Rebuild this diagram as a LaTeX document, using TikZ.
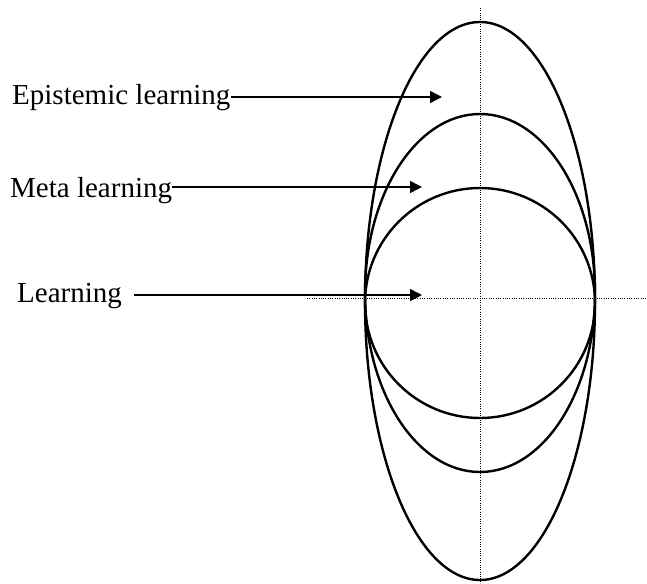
\documentclass[tikz,border=0pt]{standalone}
\usepackage{fontspec}
\setmainfont{Liberation Serif}
\usetikzlibrary{arrows.meta}
\tikzset{>={Triangle[length=12pt,width=12pt]},
 label/.style={inner sep=0pt,anchor=base west,font=\fontsize{29}{35}\selectfont},
 arw/.style={->,line width=1.6pt},
 shell/.style={draw,line width=2.4pt},
 axis/.style={line width=0.7pt,dash pattern=on 1pt off 1.3pt}}

\begin{document}
\begin{tikzpicture}[x=1pt,y=-1pt]
\useasboundingbox (0,0) rectangle (647,583);
% axes
\draw[axis] (480,8) -- (480,583);
\draw[axis] (307,298) -- (647,298);
% nested shells
\draw[shell] (480,301) ellipse [x radius=115pt,y radius=279pt];
\draw[shell] (480,293) ellipse [x radius=115pt,y radius=179pt];
\draw[shell] (480,303) circle [radius=115pt];
% labels
\node[label] (epi) at (12,105) {Epistemic learning};
\node[label] (meta) at (10,197) {Meta learning};
\node[label] (learn) at (17,302) {Learning};
\coordinate (epiTip) at (442,97);
\coordinate (metaTip) at (422,187);
\coordinate (learnTip) at (422,295);
\draw[arw] ([yshift=8pt]epi.base east) -- (epiTip);
\draw[arw] ([yshift=10pt]meta.base east) -- (metaTip);
\draw[arw] ([xshift=12pt,yshift=7pt]learn.base east) -- (learnTip);
\end{tikzpicture}
\end{document}
